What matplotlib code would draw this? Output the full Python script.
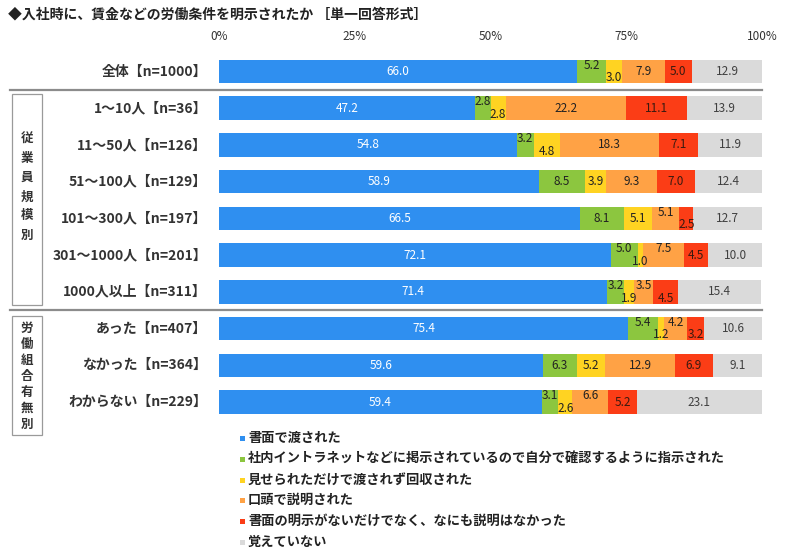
import matplotlib
matplotlib.use("Agg")
import matplotlib.pyplot as plt
import matplotlib.transforms as mtransforms
from matplotlib.patches import Rectangle
import numpy as np

plt.rcParams['font.family'] = ['Noto Sans CJK JP', 'DejaVu Sans']

title = "◆入社時に、賃金などの労働条件を明示されたか ［単一回答形式］"

rows = ["全体【n=1000】",
        "1～10人【n=36】", "11～50人【n=126】", "51～100人【n=129】",
        "101～300人【n=197】", "301～1000人【n=201】", "1000人以上【n=311】",
        "あった【n=407】", "なかった【n=364】", "わからない【n=229】"]

series = ["書面で渡された",
          "社内イントラネットなどに掲示されているので自分で確認するように指示された",
          "見せられただけで渡されず回収された",
          "口頭で説明された",
          "書面の明示がないだけでなく、なにも説明はなかった",
          "覚えていない"]

written = [66.0, 47.2, 54.8, 58.9, 66.5, 72.1, 71.4, 75.4, 59.6, 59.4]
intranet = [5.2, 2.8, 3.2, 8.5, 8.1, 5.0, 3.2, 5.4, 6.3, 3.1]
shown_only = [3.0, 2.8, 4.8, 3.9, 5.1, 1.0, 1.9, 1.2, 5.2, 2.6]
oral = [7.9, 22.2, 18.3, 9.3, 5.1, 7.5, 3.5, 4.2, 12.9, 6.6]
nothing = [5.0, 11.1, 7.1, 7.0, 2.5, 4.5, 4.5, 3.2, 6.9, 5.2]
not_remember = [12.9, 13.9, 11.9, 12.4, 12.7, 10.0, 15.4, 10.6, 9.1, 23.1]

groups = ["従業員規模別", "労働組合有無別"]

ticks = [0, 25, 50, 75, 100]
tick_labels = ["0%", "25%", "50%", "75%", "100%"]

colors = ["#2f8ff0", "#8cc63f", "#ffd322", "#ffa245", "#fb3d16", "#dadada"]
text_colors = ["white", "#222222", "#222222", "#222222", "#3a1a10", "#404040"]

W, H = 785, 551
fig = plt.figure(figsize=(W / 100, H / 100), dpi=100)
fig.patch.set_facecolor("white")

# axes frame: 0% at x=219px, 100% at 762px; row centres 71.5 .. 402px
step = (402 - 71.5) / 9
top_px = 71.5 - step / 2
bot_px = 402 + step / 2
ax = fig.add_axes([219 / W, 1 - bot_px / H, 543 / W, (bot_px - top_px) / H])

data = np.array([written, intranet, shown_only, oral, nothing, not_remember])
n = len(rows)
y = np.arange(n)
left = np.zeros(n)
bar_h = 0.64

for k in range(data.shape[0]):
    ax.barh(y, data[k], left=left, height=bar_h, color=colors[k], linewidth=0)
    left = left + data[k]

# value labels; small neighbouring segments are staggered up / down
offsets = np.zeros_like(data)
for i in range(n):
    for k in range(2, 5):
        a, b = data[k - 1, i], data[k, i]
        if (a + b) / 2 < 5.0:
            if offsets[k - 1, i] == 0:
                offsets[k - 1, i] = -1
            offsets[k, i] = -offsets[k - 1, i]

left = np.zeros(n)
for k in range(data.shape[0]):
    for i in range(n):
        v = data[k, i]
        ax.text(left[i] + v / 2, y[i] + offsets[k, i] * 0.17, f"{v:.1f}",
                ha="center", va="center", fontsize=8.5, color=text_colors[k])
    left = left + data[k]

ax.set_xlim(0, 100)
ax.set_ylim(n - 0.5, -0.5)
ax.xaxis.tick_top()
ax.set_xticks(ticks)
ax.set_xticklabels(tick_labels, fontsize=8.5, color="#333333")
ax.tick_params(axis="x", length=0, pad=7)
ax.set_yticks([])
for s in ax.spines.values():
    s.set_visible(False)

trans = mtransforms.blended_transform_factory(ax.transAxes, ax.transData)
for i, lab in enumerate(rows):
    ax.text(-0.022, i, lab, transform=trans, ha="right", va="center",
            fontsize=10, fontweight="bold", color="#333333")

# separators between the blocks
for yy in (0.5, 6.5):
    ax.plot([-0.385, 1.0], [yy, yy], transform=trans, color="#8c8c8c",
            lw=1.6, clip_on=False)

# group boxes with vertical labels
x0 = (12 - 219) / 543
bw = 30 / 543
box_spans = [(0.6, 6.36), (6.66, 9.9)]
text_mid = [3.15, 8.3]
for g, (y0, y1), ym, lsp in zip(groups, box_spans, text_mid, [1.62, 1.3]):
    ax.add_patch(Rectangle((x0, y0), bw, y1 - y0, transform=trans, fill=False,
                           edgecolor="#9a9a9a", lw=0.9, clip_on=False))
    ax.text(x0 + bw / 2, ym, "\n".join(g), transform=trans,
            ha="center", va="center", fontsize=9, fontweight="bold",
            color="#333333", linespacing=lsp)

fig.text(8 / W, 1 - 14 / H, title, ha="left", va="center", fontsize=10,
         fontweight="bold", color="#222222")

# legend, one entry per line
leg_y = [438, 459, 480, 500, 521, 542]
for c, lab, yy in zip(colors, series, leg_y):
    fig.patches.append(Rectangle((240 / W, 1 - (yy + 2.5) / H), 5 / W, 5 / H,
                                 transform=fig.transFigure, color=c, lw=0))
    fig.text(248 / W, 1 - yy / H, lab, ha="left", va="center", fontsize=9.5,
             fontweight="bold", color="#222222")

fig.savefig("out.png", dpi=100)
